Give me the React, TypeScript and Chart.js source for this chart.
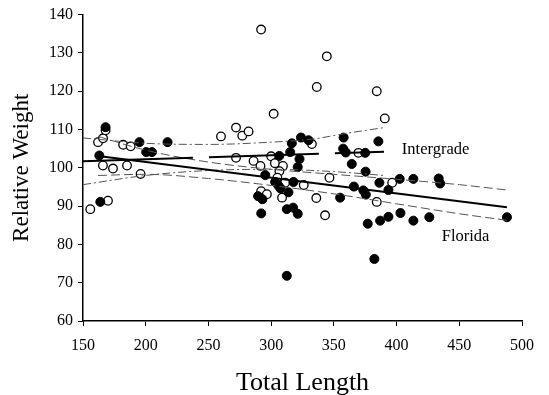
import React, { useEffect, useRef } from "react";
import { Chart, registerables } from "chart.js";

Chart.register(...registerables);

// ---- axis settings ----
const X_MIN = 150;
const X_MAX = 500;
const X_STEP = 50;
const Y_MIN = 60;
const Y_MAX = 140;
const Y_STEP = 10;
const X_TITLE = "Total Length";
const Y_TITLE = "Relative Weight";

// ---- open circles ----
const openX = [155.8, 169.9, 165.9, 173.9, 185.1, 195.9, 162, 166, 168, 182, 188, 260, 272, 277, 282, 272, 286, 291.5, 292, 302, 336.4, 344.4, 384.2, 390.6, 332.5, 369.6, 300, 303, 309.4, 306.6, 305, 311.2, 326, 346.5, 396.5, 292, 296.6, 308.7, 336, 343, 384.2];
const openY = [89.2, 91.4, 100.6, 99.8, 100.6, 98.4, 106.7, 107.7, 109.8, 106, 105.6, 108.2, 110.5, 108.4, 109.5, 102.6, 101.8, 100.5, 136.1, 114.1, 121.1, 129.1, 120, 112.9, 106.2, 103.9, 103, 101.2, 100.5, 99.1, 97.4, 96.1, 95.5, 97.4, 96.1, 93.9, 93.1, 92.2, 92.1, 87.6, 91.1];

// ---- filled circles ----
const filledX = [163.8, 163, 168, 195, 200.4, 205, 217.4, 295.3, 306.5, 315.2, 316.5, 323.8, 329.8, 322.6, 321.2, 357.8, 385.5, 357.4, 359.5, 375, 364.3, 375.3, 402.5, 413.4, 433.6, 434.7, 386.3, 393.5, 366, 373.5, 375.5, 317.8, 355, 312.5, 317.5, 321.2, 292.1, 377, 386.9, 393.5, 403.1, 413.4, 426.1, 488, 382.3, 312.5, 289.6, 293, 305.9, 307.5, 313.8, 303.2];
const filledY = [91.1, 103.2, 110.6, 106.7, 104.1, 104.1, 106.7, 98.1, 103.1, 104.1, 106.4, 107.9, 107.2, 102.3, 100.2, 107.9, 106.9, 105, 104, 103.9, 101, 99, 97.1, 97.1, 97.2, 95.9, 96.1, 94.2, 95.1, 94.1, 93, 96.3, 92.2, 89.2, 89.6, 88, 88.1, 85.4, 86.2, 87.2, 88.2, 86.2, 87.1, 87.1, 76.2, 71.8, 92.6, 91.8, 95.3, 94.6, 93.6, 96.3];

// ---- regression lines ----
const floridaLineX = [162, 488];
const floridaLineY = [103.1, 89.7];
const intergradeLineX = [150, 390];
const intergradeLineY = [101.7, 104.2];

// ---- confidence bands ----
const floridaBandX = [162, 200, 250, 300, 350, 400, 450, 488];
const floridaUpperY = [108.2, 104.6, 101.5, 99.6, 98.3, 97.0, 95.6, 94.2];
const floridaLowerY = [98.0, 98.3, 97.2, 95.4, 93.2, 90.6, 88.0, 86.3];
const intergradeUpperX = [150, 200, 250, 300, 333, 360, 390];
const intergradeUpperY = [107.8, 106.4, 106.1, 106.7, 107.5, 109.0, 110.5];
const intergradeLowerX = [150, 200, 250, 300, 350, 390];
const intergradeLowerY = [95.6, 98.0, 99.3, 99.6, 99.0, 98.0];

// ---- in-plot labels ----
const labelText = ["Intergrade", "Florida"];
const labelX = [404.2, 436];
const labelY = [104.66, 82.1];

const SERIF = "'Liberation Serif', 'Times New Roman', serif";

const pts = (xs: number[], ys: number[]) => xs.map((x, i) => ({ x, y: ys[i] }));

const labelPlugin = {
  id: "curveLabels",
  afterDatasetsDraw(chart: any) {
    const { ctx, scales } = chart;
    ctx.save();
    ctx.font = `16.5px ${SERIF}`;
    ctx.fillStyle = "#000";
    ctx.textAlign = "left";
    ctx.textBaseline = "middle";
    labelText.forEach((t, i) => {
      ctx.fillText(t, scales.x.getPixelForValue(labelX[i]), scales.y.getPixelForValue(labelY[i]));
    });
    ctx.restore();
  },
};

export default function App() {
  const ref = useRef<HTMLCanvasElement | null>(null);

  useEffect(() => {
    if (!ref.current) return;
    const lineBase = {
      showLine: true,
      pointRadius: 0,
      pointHoverRadius: 0,
      fill: false,
    };
    const chart = new Chart(ref.current, {
      type: "scatter",
      data: {
        datasets: [
          {
            ...lineBase,
            data: pts(floridaLineX, floridaLineY),
            borderColor: "#000",
            borderWidth: 2,
          },
          {
            ...lineBase,
            data: pts(intergradeLineX, intergradeLineY),
            borderColor: "#000",
            borderWidth: 2,
            borderDash: [110, 16],
          },
          {
            ...lineBase,
            data: pts(floridaBandX, floridaUpperY),
            borderColor: "#555",
            borderWidth: 1,
            borderDash: [9, 4],
            cubicInterpolationMode: "monotone",
          },
          {
            ...lineBase,
            data: pts(floridaBandX, floridaLowerY),
            borderColor: "#555",
            borderWidth: 1,
            borderDash: [9, 4],
            cubicInterpolationMode: "monotone",
          },
          {
            ...lineBase,
            data: pts(intergradeUpperX, intergradeUpperY),
            borderColor: "#555",
            borderWidth: 1,
            borderDash: [8, 3, 2, 3],
            cubicInterpolationMode: "monotone",
          },
          {
            ...lineBase,
            data: pts(intergradeLowerX, intergradeLowerY),
            borderColor: "#555",
            borderWidth: 1,
            borderDash: [8, 3, 2, 3],
            cubicInterpolationMode: "monotone",
          },
          {
            data: pts(filledX, filledY),
            backgroundColor: "#000",
            borderColor: "#000",
            borderWidth: 1,
            pointRadius: 4.5,
          },
          {
            data: pts(openX, openY),
            backgroundColor: "#fff",
            borderColor: "#000",
            borderWidth: 1.3,
            pointRadius: 4.3,
          },
        ],
      } as any,
      options: {
        animation: false,
        responsive: false,
        events: [],
        layout: { padding: { left: 0, top: 11, right: 27, bottom: 0 } },
        plugins: {
          legend: { display: false },
          tooltip: { enabled: false },
        },
        scales: {
          x: {
            type: "linear",
            min: X_MIN,
            max: X_MAX,
            afterFit: (s: any) => {
              s.height = 74;
            },
            ticks: {
              stepSize: X_STEP,
              color: "#000",
              padding: 10,
              font: { family: SERIF, size: 16 },
            },
            grid: {
              drawOnChartArea: false,
              drawTicks: true,
              tickLength: 5,
              color: "#000",
            },
            border: { color: "#000", width: 1.5 },
            title: {
              display: true,
              text: X_TITLE,
              color: "#000",
              font: { family: SERIF, size: 26, lineHeight: 0.92 },
              padding: { top: 0, bottom: 0 },
            },
          },
          y: {
            type: "linear",
            min: Y_MIN,
            max: Y_MAX,
            afterFit: (s: any) => {
              s.width = 83;
            },
            ticks: {
              stepSize: Y_STEP,
              color: "#000",
              padding: 5,
              font: { family: SERIF, size: 16 },
            },
            grid: {
              drawOnChartArea: false,
              drawTicks: true,
              tickLength: 5,
              color: "#000",
            },
            border: { color: "#000", width: 1.5 },
            title: {
              display: true,
              text: Y_TITLE,
              color: "#000",
              font: { family: SERIF, size: 23, lineHeight: 1 },
              padding: { top: 10.5, bottom: 0 },
            },
          },
        },
      } as any,
      plugins: [labelPlugin],
    });
    return () => chart.destroy();
  }, []);

  return (
    <div style={{ position: "fixed", left: 0, top: 0, width: 549, height: 395, background: "#fff" }}>
      <canvas ref={ref} width={549} height={395} style={{ display: "block" }} />
    </div>
  );
}
